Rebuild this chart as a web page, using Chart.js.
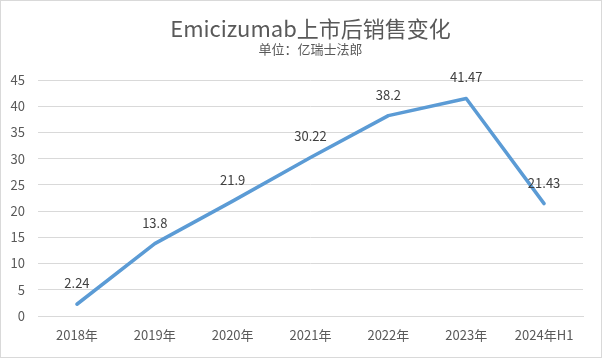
<!DOCTYPE html>
<html>
<head>
<meta charset="utf-8">
<script src="https://cdn.jsdelivr.net/npm/chart.js@4"></script>
<style>
html,body{margin:0;padding:0;background:#fff;}
#wrap{position:relative;width:602px;height:358px;}
canvas{display:block;}
</style>
</head>
<body>
<div id="wrap"><canvas id="c" width="602" height="358"></canvas></div>
<script>
const categories = ['2018年','2019年','2020年','2021年','2022年','2023年','2024年H1'];
const sales = [2.24, 13.8, 21.9, 30.22, 38.2, 41.47, 21.43];
const yTicks = [0,5,10,15,20,25,30,35,40,45];
const titleText = 'Emicizumab上市后销售变化';
const subtitleText = '单位：亿瑞士法郎';

const FONT = "'Noto Sans CJK SC', 'Noto Sans', sans-serif";

const bgBorder = {
  id: 'bgBorder',
  beforeDraw(chart) {
    const ctx = chart.ctx;
    ctx.save();
    ctx.fillStyle = '#ffffff';
    ctx.fillRect(0, 0, chart.width, chart.height);
    ctx.strokeStyle = '#d9d9d9';
    ctx.lineWidth = 1;
    ctx.strokeRect(0.5, 0.5, chart.width - 1, chart.height - 1);
    ctx.restore();
  }
};

const headings = {
  id: 'headings',
  afterDraw(chart) {
    const ctx = chart.ctx;
    const ca = chart.chartArea;
    const cx = (ca.left + ca.right) / 2;
    ctx.save();
    ctx.fillStyle = '#595959';
    ctx.textAlign = 'center';
    ctx.textBaseline = 'middle';
    ctx.font = '22px ' + FONT;
    ctx.fillText(titleText, cx, 29);
    ctx.font = '13px ' + FONT;
    ctx.fillText(subtitleText, cx, 49);
    ctx.restore();
  }
};

const dataLabels = {
  id: 'dataLabels',
  afterDatasetsDraw(chart) {
    const ctx = chart.ctx;
    const meta = chart.getDatasetMeta(0);
    ctx.save();
    ctx.font = '13px ' + FONT;
    ctx.fillStyle = '#404040';
    ctx.textAlign = 'center';
    ctx.textBaseline = 'middle';
    meta.data.forEach((pt, i) => {
      ctx.fillText(String(sales[i]), pt.x, pt.y - 21);
    });
    ctx.restore();
  }
};

new Chart(document.getElementById('c'), {
  type: 'line',
  data: {
    labels: categories,
    datasets: [{
      data: sales,
      borderColor: '#5B9BD5',
      borderWidth: 3.5,
      borderCapStyle: 'round',
      borderJoinStyle: 'round',
      pointRadius: 0,
      tension: 0,
      fill: false
    }]
  },
  options: {
    responsive: false,
    animation: false,
    devicePixelRatio: 1,
    layout: { padding: { left: 0, right: 19, top: 80, bottom: 0 } },
    plugins: {
      legend: { display: false },
      tooltip: { enabled: false },
      title: { display: false },
      subtitle: { display: false }
    },
    scales: {
      x: {
        offset: true,
        grid: { display: false, drawTicks: false },
        border: { display: true, color: '#d9d9d9', width: 1 },
        ticks: {
          color: '#595959',
          font: { family: FONT, size: 13 },
          padding: 11,
          maxRotation: 0,
          autoSkip: false
        },
        afterFit(scale) { scale.height = 42; }
      },
      y: {
        min: 0,
        max: 45,
        afterBuildTicks(scale) { scale.ticks = yTicks.map(v => ({ value: v })); },
        grid: { color: '#d9d9d9', lineWidth: 1, drawTicks: false },
        border: { display: false },
        ticks: {
          color: '#595959',
          font: { family: FONT, size: 13 },
          padding: 13
        },
        afterFit(scale) { scale.width = 38; }
      }
    }
  },
  plugins: [bgBorder, headings, dataLabels]
});
</script>
</body>
</html>
